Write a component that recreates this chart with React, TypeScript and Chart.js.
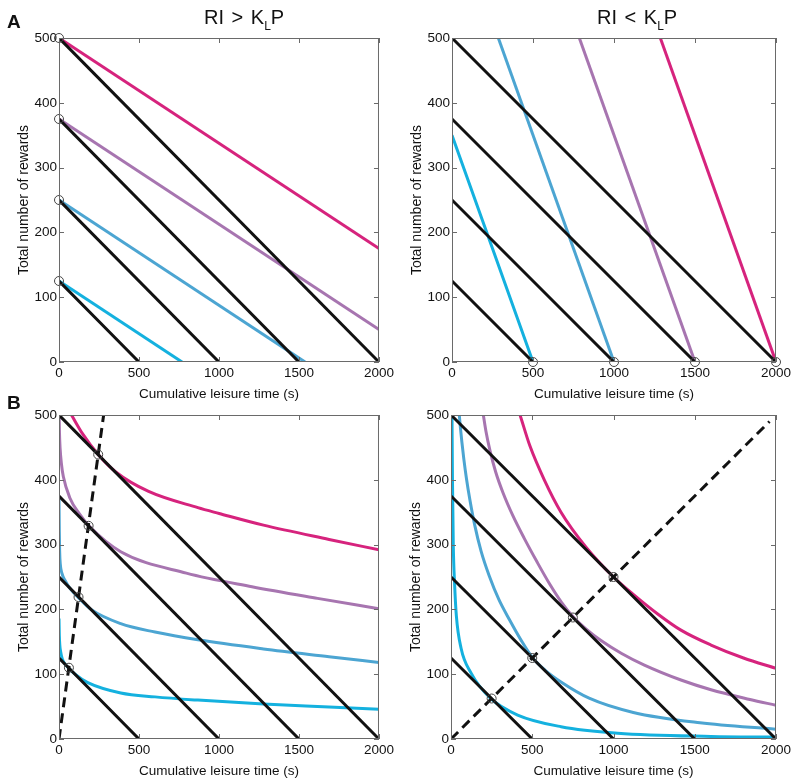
import React, { useEffect, useRef } from "react";
import { Chart, registerables } from "chart.js";

Chart.register(...registerables);

// ---------- data ----------
const xTicks = [0, 500, 1000, 1500, 2000];
const yTicks = [0, 100, 200, 300, 400, 500];
const xTitle = "Cumulative leisure time (s)";
const yTitle = "Total number of rewards";

// budget lines (black), identical in all panels
const budget1 = [[0, 125], [500, 0]];
const budget2 = [[0, 250], [1000, 0]];
const budget3 = [[0, 375], [1500, 0]];
const budget4 = [[0, 500], [2000, 0]];

// Panel A, left (RI > KLP)
const aLeftCyan = [[0, 125], [769, 0]];
const aLeftBlue = [[0, 250], [1538, 0]];
const aLeftPurple = [[0, 375], [2000, 50]];
const aLeftMagenta = [[0, 500], [2000, 175]];
const aLeftCircles = [[0, 125], [0, 250], [0, 375], [0, 500]];
const aLeftDashed = [[0, 0], [0, 500]];

// Panel A, right (RI < KLP)
const aRightCyan = [[0, 350], [500, 0]];
const aRightBlue = [[286, 500], [1000, 0]];
const aRightPurple = [[786, 500], [1500, 0]];
const aRightMagenta = [[1286, 500], [2000, 0]];
const aRightCircles = [[500, 0], [1000, 0], [1500, 0], [2000, 0]];
const aRightDashed = [[0, 0], [2000, 0]];

// Panel B, left
const bLeftCyan = [[0, 186], [2, 160], [5, 145], [10, 135], [20, 124], [40, 115], [62, 109], [100, 100], [180, 87], [386, 71], [600, 65], [868, 60], [1278, 54], [1688, 49.5], [2000, 46]];
const bLeftBlue = [[0, 371], [2, 320], [4, 290], [8, 270], [18, 256], [37, 245], [70, 232], [119, 219], [200, 200], [386, 178], [600, 165], [868, 153], [1278, 139], [1688, 127], [2000, 118]];
const bLeftPurple = [[1, 500], [3, 472], [7, 448], [15, 425], [27, 405], [68, 372], [129, 347], [187, 329], [386, 289], [796, 256], [1206, 235], [1616, 217], [2000, 201]];
const bLeftMagenta = [[78, 500], [150, 470], [245, 439], [355, 412], [560, 382], [868, 357], [1001, 348], [1278, 330], [1688, 308], [2000, 292]];
const bLeftCircles = [[62, 110], [122, 219], [185, 329], [245, 439]];
const bLeftDashed = [[0, 0], [279, 500]];

// Panel B, right
const bRightCyan = [[6, 500], [9, 400], [14, 300], [22, 240], [33, 190], [62, 140], [123, 102], [242, 63], [410, 37], [677, 19], [1026, 9], [1600, 4], [2000, 3]];
const bRightBlue = [[51, 500], [58, 480], [67, 458], [79, 432], [95, 402], [117, 368], [146, 330], [185, 290], [235, 252], [295, 215], [360, 184], [430, 153], [500, 126], [580, 106], [677, 88], [850, 63], [1122, 41], [1532, 25], [2000, 15]];
const bRightPurple = [[199, 500], [215, 475], [240, 445], [275, 412], [320, 380], [380, 345], [450, 310], [530, 273], [610, 238], [680, 211], [750, 189], [830, 170], [923, 152], [1050, 132], [1190, 114], [1415, 91], [1600, 76], [1840, 61], [2000, 52]];
const bRightMagenta = [[425, 500], [486, 452], [574, 400], [677, 350], [831, 296], [1000, 250], [1118, 224], [1272, 193], [1415, 168], [1600, 145], [1800, 125], [2000, 109]];
const bRightCircles = [[250, 62.5], [500, 125], [750, 187.5], [1000, 250]];
const bRightDashed = [[0, 0], [1960, 490]];

// ---------- styles ----------
const FONT = "'Liberation Sans', Arial, Helvetica, sans-serif";
const MAGENTA = "#d6237d";
const PURPLE = "#a775b0";
const BLUE = "#4ca5d2";
const CYAN = "#14b1df";
const BLACK = "#111111";

const pts = (a: number[][]) => a.map(([x, y]) => ({ x, y }));

const lineDs = (data: number[][], color: string, order: number, width = 3, dash: number[] = []) => ({
  type: "line" as const,
  data: pts(data),
  borderColor: color,
  borderWidth: width,
  borderDash: dash,
  pointRadius: 0,
  pointHoverRadius: 0,
  fill: false,
  cubicInterpolationMode: "monotone" as const,
  order,
});

const circleDs = (data: number[][]) => ({
  type: "scatter" as const,
  data: pts(data),
  pointRadius: 4.5,
  pointBorderColor: "#444",
  pointBackgroundColor: "rgba(0,0,0,0)",
  pointBorderWidth: 1,
  showLine: false,
  clip: false as any,
  order: 0,
});

const framePlugin = {
  id: "frame",
  afterDatasetsDraw(chart: any) {
    const { ctx, chartArea: a, scales } = chart;
    ctx.save();
    ctx.strokeStyle = "#6a6a6a";
    ctx.lineWidth = 1;
    ctx.strokeRect(a.left + 0.5, a.top + 0.5, a.right - a.left - 1, a.bottom - a.top - 1);
    ctx.beginPath();
    const tl = 5;
    for (const v of xTicks) {
      const px = Math.round(scales.x.getPixelForValue(v)) + 0.5;
      ctx.moveTo(px, a.bottom);
      ctx.lineTo(px, a.bottom - tl);
      ctx.moveTo(px, a.top);
      ctx.lineTo(px, a.top + tl);
    }
    for (const v of yTicks) {
      const py = Math.round(scales.y.getPixelForValue(v)) + 0.5;
      ctx.moveTo(a.left, py);
      ctx.lineTo(a.left + tl, py);
      ctx.moveTo(a.right, py);
      ctx.lineTo(a.right - tl, py);
    }
    ctx.stroke();
    ctx.restore();
  },
};

type PanelCfg = {
  left: number;
  top: number;
  w: number;
  h: number;
  yw: number;
  padTop: number;
  padRight: number;
  datasets: any[];
};

const makeDatasets = (cyan: number[][], blue: number[][], purple: number[][], magenta: number[][], circles: number[][], dashed: number[][], dashW: number, dash: number[]) => [
  circleDs(circles),
  lineDs(dashed, BLACK, 1, dashW, dash),
  lineDs(budget1, BLACK, 2),
  lineDs(budget2, BLACK, 2),
  lineDs(budget3, BLACK, 2),
  lineDs(budget4, BLACK, 2),
  lineDs(cyan, CYAN, 3),
  lineDs(blue, BLUE, 3),
  lineDs(purple, PURPLE, 3),
  lineDs(magenta, MAGENTA, 3),
];

const panels: PanelCfg[] = [
  { left: 0, top: 0, w: 397, h: 402, yw: 59, padTop: 38, padRight: 13, datasets: makeDatasets(aLeftCyan, aLeftBlue, aLeftPurple, aLeftMagenta, aLeftCircles, aLeftDashed, 1.5, [6, 3]) },
  { left: 397, top: 0, w: 400, h: 402, yw: 55, padTop: 38, padRight: 21, datasets: makeDatasets(aRightCyan, aRightBlue, aRightPurple, aRightMagenta, aRightCircles, aRightDashed, 1.5, [6, 3]) },
  { left: 0, top: 400, w: 397, h: 379, yw: 59, padTop: 15, padRight: 13, datasets: makeDatasets(bLeftCyan, bLeftBlue, bLeftPurple, bLeftMagenta, bLeftCircles, bLeftDashed, 3, [10, 6]) },
  { left: 397, top: 400, w: 400, h: 379, yw: 54, padTop: 15, padRight: 21, datasets: makeDatasets(bRightCyan, bRightBlue, bRightPurple, bRightMagenta, bRightCircles, bRightDashed, 3, [10, 6]) },
];

function Panel({ cfg }: { cfg: PanelCfg }) {
  const ref = useRef<HTMLCanvasElement>(null);
  useEffect(() => {
    const tickFont = { family: FONT, size: 13.5 };
    const xTitleFont = { family: FONT, size: 13.5 };
    const yTitleFont = { family: FONT, size: 14 };
    const chart = new Chart(ref.current as HTMLCanvasElement, {
      type: "line",
      data: { datasets: cfg.datasets },
      options: {
        responsive: false,
        maintainAspectRatio: false,
        animation: false,
        events: [],
        layout: { padding: { top: cfg.padTop, right: cfg.padRight, left: 0, bottom: 0 } },
        plugins: { legend: { display: false }, tooltip: { enabled: false }, title: { display: false } },
        scales: {
          x: {
            type: "linear",
            min: 0,
            max: 2000,
            grid: { display: false, drawTicks: false },
            border: { display: false },
            afterBuildTicks: (axis: any) => {
              axis.ticks = xTicks.map((v) => ({ value: v }));
            },
            afterFit: (s: any) => {
              s.height = 40;
            },
            ticks: { font: tickFont, color: "#111", padding: 3, maxRotation: 0, autoSkip: false, callback: (v: any) => String(v) },
            title: { display: true, text: xTitle, font: xTitleFont, color: "#111", padding: { top: 7, bottom: 0 } },
          },
          y: {
            type: "linear",
            min: 0,
            max: 500,
            grid: { display: false, drawTicks: false },
            border: { display: false },
            afterBuildTicks: (axis: any) => {
              axis.ticks = yTicks.map((v) => ({ value: v }));
            },
            afterFit: (s: any) => {
              s.width = cfg.yw;
            },
            ticks: { font: tickFont, color: "#111", padding: 2, autoSkip: false, callback: (v: any) => String(v) },
            title: { display: true, text: yTitle, font: yTitleFont, color: "#111", padding: { top: cfg.yw - 43, bottom: 0 } },
          },
        },
      },
      plugins: [framePlugin],
    } as any);
    return () => chart.destroy();
  }, []);
  return (
    <canvas
      ref={ref}
      width={cfg.w}
      height={cfg.h}
      style={{ position: "absolute", left: cfg.left, top: cfg.top, width: cfg.w, height: cfg.h }}
    />
  );
}

function Title({ left, sign }: { left: number; sign: string }) {
  return (
    <div style={{ position: "absolute", left, top: 7, fontFamily: FONT, fontSize: 20, lineHeight: "20px", color: "#111", whiteSpace: "nowrap", wordSpacing: 2 }}>
      RI {sign} K<span style={{ fontSize: 12, position: "relative", top: 6 }}>L</span>P
    </div>
  );
}

function Letter({ top, text }: { top: number; text: string }) {
  return (
    <div style={{ position: "absolute", left: 7, top, fontFamily: FONT, fontSize: 19, fontWeight: "bold", lineHeight: "19px", color: "#111" }}>
      {text}
    </div>
  );
}

export default function App() {
  return (
    <div style={{ position: "absolute", left: 0, top: 0, width: 797, height: 779, background: "#fff", overflow: "hidden" }}>
      {panels.map((p, i) => (
        <Panel key={i} cfg={p} />
      ))}
      <Title left={204} sign=">" />
      <Title left={597} sign="<" />
      <Letter top={12} text="A" />
      <Letter top={393} text="B" />
    </div>
  );
}
